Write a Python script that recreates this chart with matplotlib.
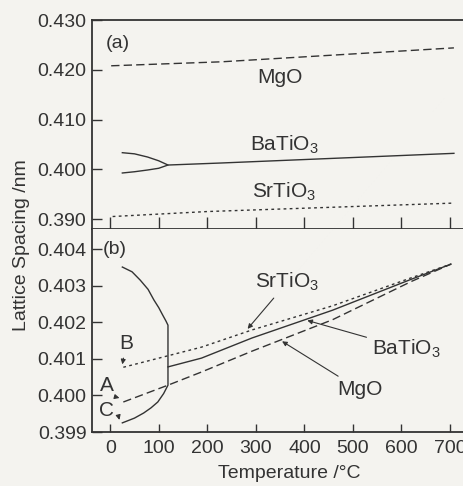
import matplotlib.pyplot as plt
import numpy as np

plt.rcParams['font.family'] = ['Liberation Sans', 'DejaVu Sans']
plt.rcParams['mathtext.fontset'] = 'custom'
plt.rcParams['mathtext.rm'] = 'Liberation Sans'
plt.rcParams['mathtext.it'] = 'Liberation Sans'

ink = '#333333'
paper = '#f4f3ef'

# (a) full range
a_mgo_t = [2, 229, 708]
a_mgo_v = [0.4208, 0.4216, 0.4244]
a_bto_t = [25, 50, 77, 100, 119, 100, 77, 50, 25]
a_bto_v = [0.40333, 0.40310, 0.40246, 0.40170, 0.40085, 0.40020, 0.39985, 0.39950, 0.39925]
a_bto_hi_t = [119, 229, 708]
a_bto_hi_v = [0.40085, 0.40126, 0.40320]
a_sto_t = [5, 200, 708]
a_sto_v = [0.3905, 0.3915, 0.3932]

# (b) zoomed
b_sto_t = [27, 188, 292, 458, 621, 702]
b_sto_v = [0.40077, 0.40132, 0.40179, 0.40245, 0.40322, 0.40359]
b_bto_t = [119, 188, 292, 458, 621, 702]
b_bto_v = [0.40078, 0.40102, 0.40157, 0.40233, 0.40318, 0.40359]
b_mgo_t = [27, 119, 188, 292, 458, 621, 702]
b_mgo_v = [0.39982, 0.40028, 0.40064, 0.40121, 0.40207, 0.40312, 0.40359]
# BaTiO3 low-temperature loop (upper branch, vertical drop, lower branch)
b_loop_t = [25, 45, 62, 78, 90, 100, 108, 115, 119, 119, 110, 98, 84, 69, 50, 25]
b_loop_v = [0.40351, 0.40338, 0.40315, 0.40290, 0.40261, 0.40240, 0.40220, 0.40203, 0.40192,
            0.40028, 0.40005, 0.39982, 0.39966, 0.39952, 0.39938, 0.39925]

xticks = np.arange(0, 701, 100)
a_yticks = [0.390, 0.400, 0.410, 0.420, 0.430]
b_yticks = [0.399, 0.400, 0.401, 0.402, 0.403, 0.404]

fig = plt.figure(figsize=(4.63, 4.86), dpi=100, facecolor=paper)
ax1 = fig.add_axes([0.1987, 0.5288, 0.81, 0.43])
ax2 = fig.add_axes([0.1987, 0.1111, 0.81, 0.4177])

dash = (6, 3)
dot = (2, 2.4)

ax1.plot(a_mgo_t, a_mgo_v, color=ink, lw=1.0, dashes=dash)
ax1.plot(a_bto_t, a_bto_v, color=ink, lw=1.0)
ax1.plot(a_bto_hi_t, a_bto_hi_v, color=ink, lw=1.0)
ax1.plot(a_sto_t, a_sto_v, color=ink, lw=1.0, dashes=dot)

ax2.plot(b_sto_t, b_sto_v, color=ink, lw=1.0, dashes=dot)
ax2.plot(b_bto_t, b_bto_v, color=ink, lw=1.0)
ax2.plot(b_mgo_t, b_mgo_v, color=ink, lw=1.0, dashes=dash)
ax2.plot(b_loop_t, b_loop_v, color=ink, lw=1.0)

fs = 14
fl = 15

for ax in (ax1, ax2):
    ax.set_facecolor(paper)
    ax.set_xlim(-37.5, 735)
    ax.set_xticks(xticks)
    ax.spines['right'].set_visible(False)
    for s in ax.spines.values():
        s.set_linewidth(1.3)
        s.set_color(ink)
    ax.tick_params(axis='both', direction='in', colors=ink, labelsize=fs, width=1.0)
    ax.tick_params(axis='y', length=7, pad=4)

ax1.set_ylim(0.38799, 0.430)
ax1.set_yticks(a_yticks)
ax1.set_yticklabels(['%.3f' % v for v in a_yticks])
ax1.tick_params(axis='x', length=9, labelbottom=False)

ax2.set_ylim(0.399, 0.40455)
ax2.set_yticks(b_yticks)
ax2.set_yticklabels(['%.3f' % v for v in b_yticks])
ax2.tick_params(axis='x', length=6, pad=6)
ax2.spines['top'].set_visible(False)

ax1.text(0.07, 0.89, '(a)', transform=ax1.transAxes, ha='center', va='center', fontsize=fs, color=ink)
ax1.text(349, 0.4185, 'MgO', ha='center', va='center', fontsize=fl, color=ink)
ax1.text(358, 0.4049, r'BaTiO$_3$', ha='center', va='center', fontsize=fl, color=ink)
ax1.text(358, 0.3954, r'SrTiO$_3$', ha='center', va='center', fontsize=fl, color=ink)

ax2.text(0.062, 0.90, '(b)', transform=ax2.transAxes, ha='center', va='center', fontsize=fs, color=ink)
arr = dict(arrowstyle='-|>', color=ink, lw=0.8, mutation_scale=7, shrinkA=2, shrinkB=0)
ax2.annotate(r'SrTiO$_3$', xy=(283, 0.40182), xytext=(365, 0.40310), ha='center', va='center',
             fontsize=fl, color=ink, arrowprops=arr)
ax2.annotate(r'BaTiO$_3$', xy=(406, 0.40205), xytext=(610, 0.40128), ha='center', va='center',
             fontsize=fl, color=ink, arrowprops=arr)
ax2.annotate('MgO', xy=(354, 0.40148), xytext=(515, 0.40015), ha='center', va='center',
             fontsize=fl, color=ink, arrowprops=arr)
ax2.annotate('B', xy=(25, 0.40085), xytext=(33, 0.40143), ha='center', va='center',
             fontsize=fl, color=ink, arrowprops=arr)
ax2.annotate('A', xy=(19, 0.39993), xytext=(-6, 0.40028), ha='center', va='center',
             fontsize=fl, color=ink,
             arrowprops=dict(arr, connectionstyle='arc3,rad=0.3'))
ax2.annotate('C', xy=(19, 0.39933), xytext=(-8, 0.39960), ha='center', va='center',
             fontsize=fl, color=ink,
             arrowprops=dict(arr, connectionstyle='arc3,rad=-0.4'))

fig.text(0.0475, 0.496, 'Lattice Spacing /nm', rotation=90, ha='center', va='center', fontsize=fs, color=ink)
fig.text(0.624, 0.026, 'Temperature /\u00b0C', ha='center', va='center', fontsize=fs, color=ink)

fig.savefig('out.png', dpi=100, facecolor=paper)
